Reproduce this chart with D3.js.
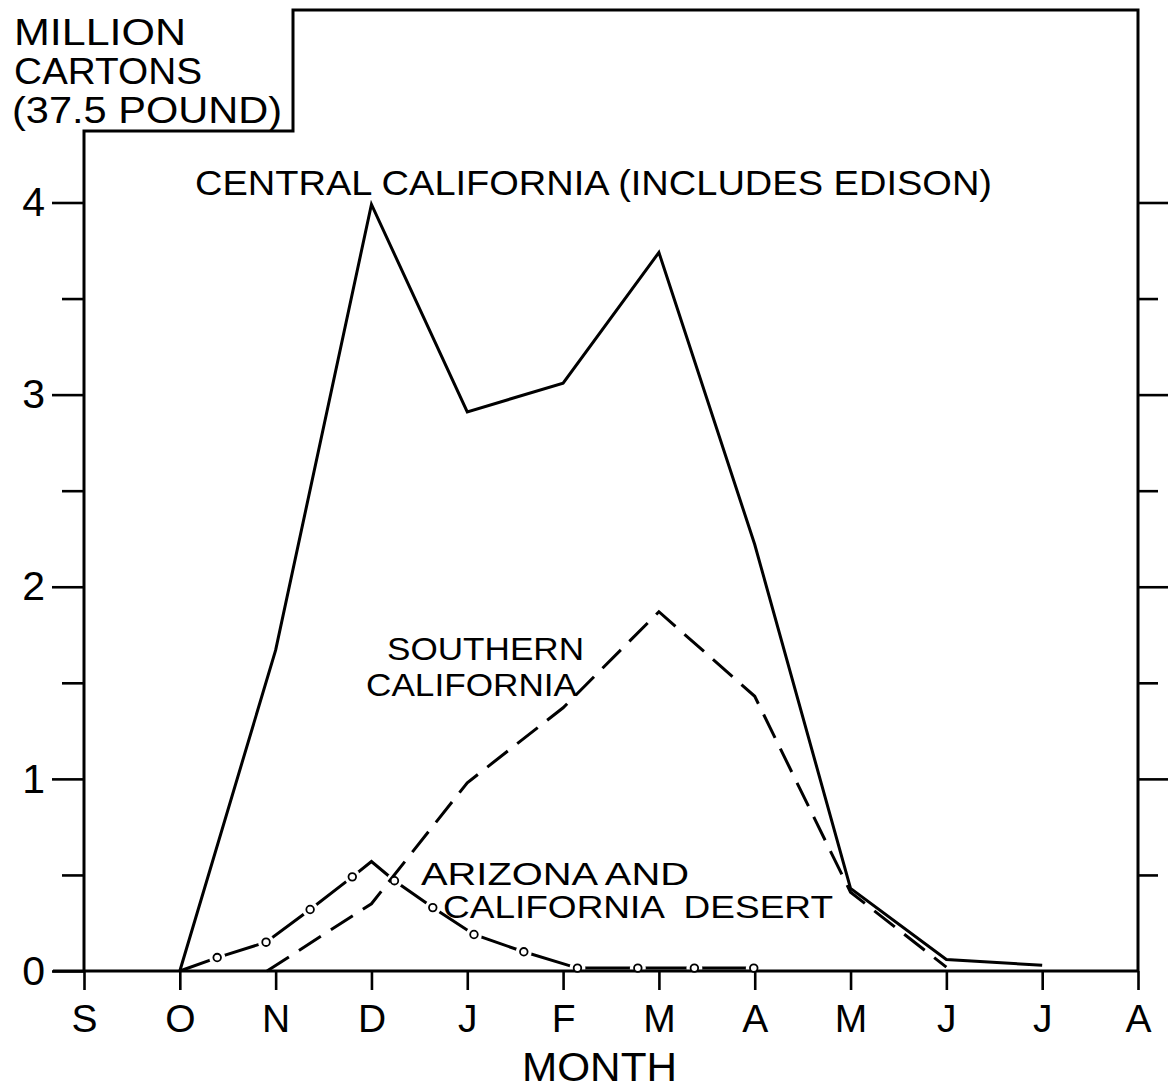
<!DOCTYPE html>
<html>
<head>
<meta charset="utf-8">
<script src="https://cdn.jsdelivr.net/npm/d3@7.9.0/dist/d3.min.js"></script>
<style>
  html, body { margin: 0; padding: 0; background: #fff; }
  svg text { font-family: "Liberation Sans", Arial, sans-serif; fill: #000; }
</style>
</head>
<body>
<svg id="chart" width="1171" height="1091"></svg>
<script>
// month ticks, Sept through Aug
const months = ['S', 'O', 'N', 'D', 'J', 'F', 'M', 'A', 'M', 'J', 'J', 'A'];
const yTicks = [0, 0.5, 1, 1.5, 2, 2.5, 3, 3.5, 4];

// central california (includes edison)
const centralMonth = [1, 2, 3, 4, 5, 6, 7, 8, 9, 10];
const centralValue = [0, 1.67, 3.99, 2.91, 3.06, 3.74, 2.22, 0.43, 0.06, 0.03];

// southern california
const southMonth = [1.91, 3, 4, 5, 6, 7, 8, 9];
const southValue = [0, 0.35, 0.98, 1.37, 1.87, 1.43, 0.41, 0.02];

// arizona and california desert
const desertMonth = [1, 1.39, 1.90, 2.36, 2.80, 3, 3.24, 3.64, 4.07, 4.59, 5.15, 5.78, 6.37, 6.99];
const desertValue = [0, 0.07, 0.15, 0.32, 0.49, 0.57, 0.47, 0.33, 0.19, 0.10, 0.015, 0.015, 0.015, 0.015];
const desertMarker = [false, true, true, true, true, false, true, true, true, true, true, true, true, true];

const svg = d3.select('#chart');
const x = d3.scaleLinear().domain([0, 11]).range([84, 1138]);
const y = d3.scaleLinear().domain([0, 4]).range([971, 202.5]);

const line = d3.line().x(d => x(d[0])).y(d => y(d[1]));
const zip = (a, b) => a.map((v, i) => [v, b[i]]);

const desertPts = zip(desertMonth, desertValue);

// desert line first, then white halos so it reads as dash - o - dash
svg.append('path')
  .attr('d', line(desertPts))
  .attr('fill', 'none').attr('stroke', '#000').attr('stroke-width', 3)
  .attr('stroke-linejoin', 'miter');
svg.append('g').selectAll('circle')
  .data(desertPts.filter((d, i) => desertMarker[i]))
  .join('circle')
  .attr('cx', d => x(d[0])).attr('cy', d => y(d[1]))
  .attr('r', 8).attr('fill', '#fff');

svg.append('path')
  .attr('d', line(zip(southMonth, southValue)))
  .attr('fill', 'none').attr('stroke', '#000').attr('stroke-width', 3)
  .attr('stroke-dasharray', '26 12');

svg.append('path')
  .attr('d', line(zip(centralMonth, centralValue)))
  .attr('fill', 'none').attr('stroke', '#000').attr('stroke-width', 3)
  .attr('stroke-linejoin', 'miter');

// frame with the notch for the unit label
const frame = d3.path();
frame.moveTo(x(0), y(0));
frame.lineTo(x(0), 131);
frame.lineTo(293, 131);
frame.lineTo(293, 10);
frame.lineTo(x(11), 10);
frame.lineTo(x(11), y(0));
svg.append('path').attr('d', frame.toString())
  .attr('fill', 'none').attr('stroke', '#000').attr('stroke-width', 3)
  .attr('stroke-linejoin', 'miter');

// axes
const bottom = svg.append('g')
  .attr('transform', `translate(0,${y(0)})`)
  .call(d3.axisBottom(x).tickValues(d3.range(12)).tickFormat(i => months[i]).tickSize(19).tickPadding(14));
bottom.select('.domain').attr('d', `M53,0H${x(11)}`).attr('stroke-width', 3);

const left = svg.append('g')
  .attr('transform', `translate(${x(0)},0)`)
  .call(d3.axisLeft(y).tickValues(yTicks).tickFormat(d => d % 1 === 0 ? d : '').tickSize(32).tickPadding(7));
left.selectAll('.tick line').attr('x2', d => d % 1 === 0 ? -32 : -22);
left.select('.domain').remove();

const right = svg.append('g')
  .attr('transform', `translate(${x(11)},0)`)
  .call(d3.axisRight(y).tickValues(yTicks.filter(d => d > 0)).tickFormat('').tickSize(30));
right.selectAll('.tick line').attr('x2', d => d % 1 === 0 ? 30 : 20);
right.select('.domain').remove();

svg.selectAll('.tick line').attr('stroke', '#000').attr('stroke-width', 2.6);
bottom.selectAll('.tick text').attr('font-size', 39).attr('font-family', '"Liberation Sans", Arial, sans-serif');
left.selectAll('.tick text').attr('font-size', 41).attr('font-family', '"Liberation Sans", Arial, sans-serif');

// desert markers on top
svg.append('g').selectAll('circle')
  .data(desertPts.filter((d, i) => desertMarker[i]))
  .join('circle')
  .attr('cx', d => x(d[0])).attr('cy', d => y(d[1]))
  .attr('r', 3.8).attr('fill', '#fff').attr('stroke', '#000').attr('stroke-width', 1.8);

// labels
const labels = [
  { t: 'MILLION', x: 14, y: 45, w: 172, s: 36 },
  { t: 'CARTONS', x: 14, y: 84, w: 188, s: 36 },
  { t: '(37.5 POUND)', x: 12, y: 123, w: 270, s: 36 },
  { t: 'CENTRAL CALIFORNIA (INCLUDES EDISON)', x: 195, y: 195, w: 797, s: 35 },
  { t: 'SOUTHERN', x: 387, y: 660, w: 197, s: 32 },
  { t: 'CALIFORNIA', x: 366, y: 696, w: 211, s: 32 },
  { t: 'ARIZONA AND', x: 421, y: 885, w: 268, s: 31 },
  { t: 'CALIFORNIA  DESERT', x: 443, y: 918, w: 390, s: 31 },
  { t: 'MONTH', x: 522, y: 1081, w: 155, s: 40 }
];
svg.append('g').selectAll('text')
  .data(labels)
  .join('text')
  .attr('x', d => d.x).attr('y', d => d.y)
  .attr('font-size', d => d.s)
  .attr('textLength', d => d.w)
  .attr('lengthAdjust', 'spacingAndGlyphs')
  .style('white-space', 'pre')
  .text(d => d.t);
</script>
</body>
</html>
